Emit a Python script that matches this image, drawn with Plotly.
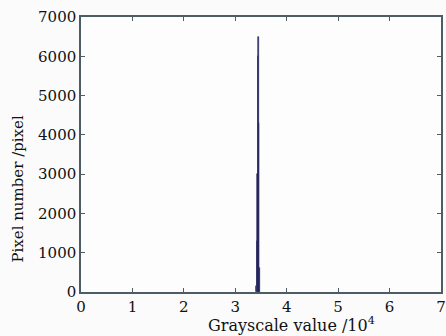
import plotly.graph_objects as go

# Histogram data (grayscale value in units of 10^4, pixel count)
gray_values = [3.40, 3.42, 3.43, 3.44, 3.45, 3.46, 3.47]
pixel_counts = [150, 1300, 3000, 6000, 6500, 4300, 600]

x_ticks = [0, 1, 2, 3, 4, 5, 6, 7]
y_ticks = [0, 1000, 2000, 3000, 4000, 5000, 6000, 7000]

x_title = "Grayscale value /10<sup>4</sup>"
y_title = "Pixel number /pixel"

axis_color = "#4d5d63"
font_family = "DejaVu Serif, Liberation Serif, serif"

fig = go.Figure()
fig.add_trace(go.Bar(
    x=gray_values, y=pixel_counts, width=0.012,
    marker=dict(color="#2a2a6e", line=dict(width=0.6, color="#23235a")),
))

fig.update_layout(
    width=446, height=336,
    margin=dict(l=81, r=5, t=17, b=44, autoexpand=False),
    paper_bgcolor="#fbfbfb", plot_bgcolor="#fdfdfd",
    showlegend=False, bargap=0,
    font=dict(family=font_family, size=15, color="#111111"),
)
fig.update_xaxes(
    range=[0, 7], tickvals=x_ticks, ticktext=[str(v) for v in x_ticks],
    ticks="inside", ticklen=4, tickcolor=axis_color,
    showline=True, linecolor=axis_color, linewidth=1.5, mirror="ticks",
    showgrid=False, zeroline=False, automargin=False,
)
fig.update_yaxes(
    range=[0, 7000], tickvals=y_ticks, ticktext=[str(v) for v in y_ticks],
    ticks="inside", ticklen=4, tickcolor=axis_color,
    showline=True, linecolor=axis_color, linewidth=1.5, mirror="ticks",
    showgrid=False, zeroline=False, automargin=False,
)
fig.add_annotation(
    text=x_title, xref="paper", yref="paper", x=0.586, y=-0.118,
    xanchor="center", yanchor="middle", showarrow=False, font=dict(size=16),
)
fig.add_annotation(
    text=y_title, xref="paper", yref="paper", x=-0.175, y=0.376, textangle=-90,
    xanchor="center", yanchor="middle", showarrow=False, font=dict(size=15),
)

fig.write_html(
    "out.html",
    config={"displayModeBar": False},
    post_script="document.body.style.margin='0';document.body.style.padding='0';",
)
